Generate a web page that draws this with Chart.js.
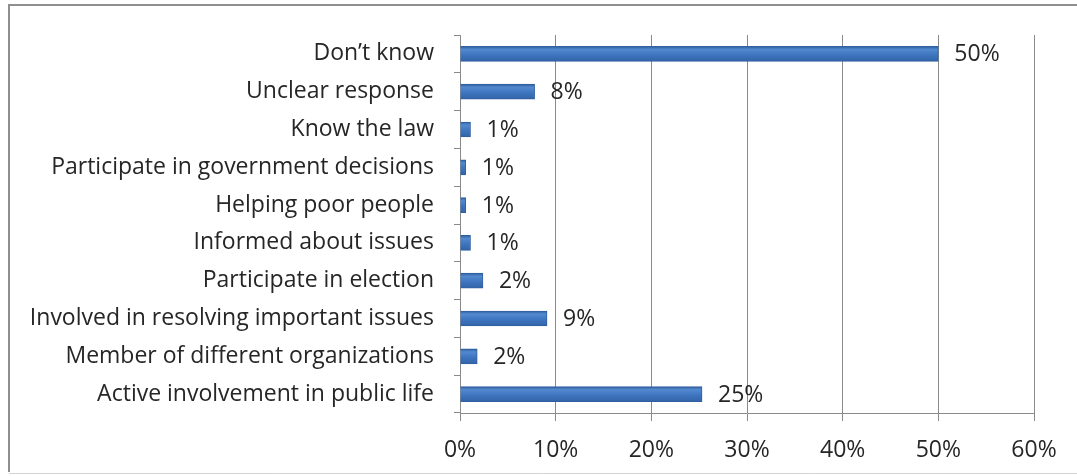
<!DOCTYPE html>
<html>
<head>
<meta charset="utf-8">
<script src="https://cdn.jsdelivr.net/npm/chart.js@4/dist/chart.umd.min.js"></script>
<style>
  html, body { margin: 0; padding: 0; background: #fff; }
  #wrap { position: relative; width: 1077px; height: 476px; }
</style>
</head>
<body>
<div id="wrap"><canvas id="chart" width="1077" height="476"></canvas></div>
<script>
'use strict';

// answers, top to bottom
const categories = [
  'Don\u2019t know',
  'Unclear response',
  'Know the law',
  'Participate in government decisions',
  'Helping poor people',
  'Informed about issues',
  'Participate in election',
  'Involved in resolving important issues',
  'Member of different organizations',
  'Active involvement in public life',
];
// share of respondents, %
const shares = [50.0, 7.8, 1.1, 0.6, 0.6, 1.1, 2.4, 9.1, 1.8, 25.3];
const xTicks = [0, 10, 20, 30, 40, 50, 60];

const FONT = '"Open Sans", sans-serif';
const GRID = '#8a8a8a';
const BAR_H = 15;

// outer frame around the figure
const framePlugin = {
  id: 'frame',
  beforeDraw(chart) {
    const ctx = chart.ctx;
    ctx.save();
    ctx.fillStyle = '#fff';
    ctx.fillRect(0, 0, chart.width, chart.height);
    ctx.strokeStyle = '#8f8f8f';
    ctx.lineWidth = 2;
    ctx.beginPath();
    ctx.moveTo(1080, 5);
    ctx.lineTo(9, 5);
    ctx.lineTo(9, 472);
    ctx.stroke();
    ctx.strokeStyle = '#d4d4d4';
    ctx.lineWidth = 1;
    ctx.beginPath();
    ctx.moveTo(9, 473.5);
    ctx.lineTo(1080, 473.5);
    ctx.stroke();
    ctx.restore();
  },
};

// percentage printed to the right of each bar
const valueLabels = {
  id: 'valueLabels',
  afterDatasetsDraw(chart) {
    const ctx = chart.ctx;
    const meta = chart.getDatasetMeta(0);
    ctx.save();
    ctx.font = '23px ' + FONT;
    ctx.fillStyle = '#262626';
    ctx.textAlign = 'left';
    ctx.textBaseline = 'middle';
    meta.data.forEach((bar, i) => {
      ctx.fillText(Math.round(shares[i]) + '%', bar.x + 16, bar.y + 1);
    });
    ctx.restore();
  },
};

function barFill(context) {
  const chart = context.chart;
  if (!chart.chartArea) return '#3f74bd';
  const yc = chart.scales.y.getPixelForValue(context.dataIndex);
  const g = chart.ctx.createLinearGradient(0, yc - BAR_H / 2, 0, yc + BAR_H / 2);
  g.addColorStop(0, '#2f5c9c');
  g.addColorStop(0.2, '#5289cf');
  g.addColorStop(0.55, '#3f76c0');
  g.addColorStop(1, '#3263a8');
  return g;
}

new Chart(document.getElementById('chart'), {
  type: 'bar',
  data: {
    labels: categories,
    datasets: [{
      data: shares,
      backgroundColor: barFill,
      borderColor: '#30609f',
      borderWidth: 1,
      borderSkipped: 'left',
      barThickness: BAR_H,
    }],
  },
  options: {
    indexAxis: 'y',
    responsive: false,
    animation: false,
    events: [],
    layout: { padding: { top: 35, right: 43, bottom: 13, left: 0 } },
    plugins: {
      legend: { display: false },
      tooltip: { enabled: false },
    },
    scales: {
      x: {
        min: 0,
        max: 60,
        afterBuildTicks: s => { s.ticks = xTicks.map(v => ({ value: v })); },
        afterFit: s => { s.height = 50; },
        grid: { color: GRID, lineWidth: 1, tickLength: 8, drawTicks: true },
        border: { display: true, color: GRID, width: 1 },
        ticks: {
          font: { family: FONT, size: 23 },
          color: '#262626',
          padding: 16,
          callback: v => v + '%',
        },
      },
      y: {
        afterFit: s => { s.width = 460; },
        grid: { offset: true, drawOnChartArea: false, color: GRID, tickLength: 6 },
        border: { display: true, color: GRID, width: 1 },
        ticks: {
          font: { family: FONT, size: 23 },
          color: '#262626',
          padding: 20,
          autoSkip: false,
        },
      },
    },
  },
  plugins: [framePlugin, valueLabels],
});
</script>
</body>
</html>
